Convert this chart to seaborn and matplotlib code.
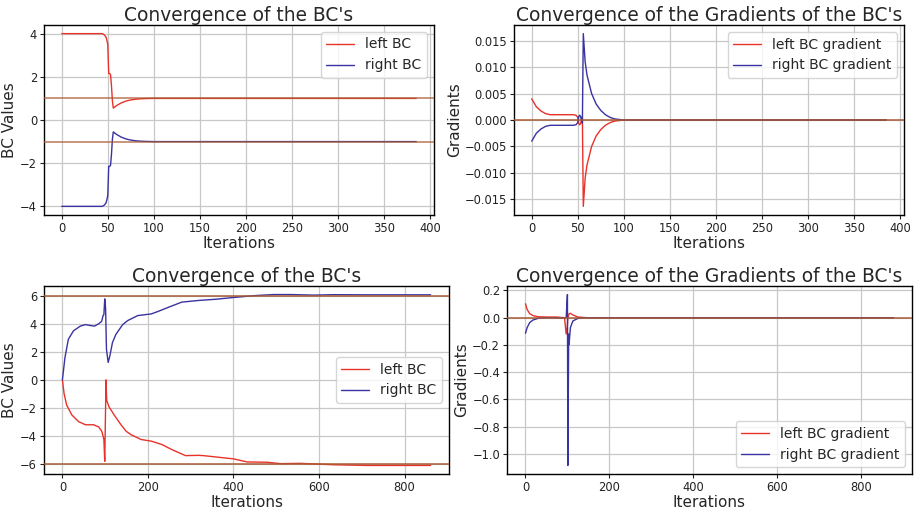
import matplotlib
matplotlib.use("Agg")
import matplotlib.pyplot as plt
import seaborn as sns
import numpy as np

# ---------------- data ----------------
# Top-left: BC values, run 1
it1_bc = [0, 44, 46, 48, 49, 50, 51, 52, 53, 54, 55, 56, 58, 60, 65, 70, 75, 80, 85, 90, 100, 385]
left_bc1 = [4.0, 4.0, 3.95, 3.85, 3.7, 3.5, 2.15, 2.15, 2.1, 1.6, 0.9, 0.55, 0.62, 0.68, 0.8, 0.88, 0.93, 0.96, 0.98, 0.99, 1.0, 1.0]
right_bc1 = [-4.0, -4.0, -3.95, -3.85, -3.7, -3.5, -2.15, -2.15, -2.1, -1.6, -0.9, -0.55, -0.62, -0.68, -0.8, -0.88, -0.93, -0.96, -0.98, -0.99, -1.0, -1.0]
targets1 = [1.0, -1.0]

# Top-right: gradients, run 1
it1_gr = [0, 5, 10, 15, 20, 30, 45, 48, 50, 51, 52, 53, 54, 55, 56, 58, 60, 65, 70, 75, 80, 85, 90, 100, 385]
left_gr1 = [0.004, 0.0025, 0.0017, 0.0012, 0.001, 0.001, 0.001, 0.0009, 0.0005, -0.0006, -0.0009, -0.0007, 0.0, 0.0006,
            -0.0163, -0.011, -0.0085, -0.005, -0.003, -0.0018, -0.001, -0.0005, -0.0002, 0.0, 0.0]
right_gr1 = [-0.004, -0.0025, -0.0017, -0.0012, -0.001, -0.001, -0.001, -0.0009, -0.0005, 0.0006, 0.0009, 0.0007, 0.0, -0.0006,
             0.0163, 0.011, 0.0085, 0.005, 0.003, 0.0018, 0.001, 0.0005, 0.0002, 0.0, 0.0]

# Bottom-left: BC values, run 2
it2_r = [0, 6, 14, 26, 42, 54, 66, 75, 85, 92, 95, 97, 99, 101, 103, 107, 111, 117, 125, 141, 153, 176, 208, 224,
         247, 279, 319, 361, 400, 447, 494, 533, 588, 635, 713, 861]
right_bc2 = [0.0, 1.6, 2.9, 3.5, 3.83, 3.94, 3.87, 3.83, 4.0, 4.18, 4.58, 4.65, 5.77, 5.1, 2.18, 1.24, 1.71, 2.65, 3.24,
             3.94, 4.23, 4.58, 4.7, 4.88, 5.16, 5.54, 5.66, 5.75, 5.87, 6.0, 6.08, 6.08, 6.04, 6.07, 6.06, 6.06]
it2_l = [0, 4, 10, 22, 38, 54, 73, 85, 92, 95, 97, 99, 100, 102, 103.5, 109, 121, 137, 149, 160, 184, 208, 232, 256,
         288, 319, 330, 400, 432, 478, 510, 556, 635, 713, 861]
left_bc2 = [0.0, -1.0, -1.8, -2.5, -2.98, -3.2, -3.2, -3.36, -3.66, -4.0, -4.25, -5.8, -3.8, 0.0, -1.46, -1.92, -2.5,
            -3.2, -3.66, -3.9, -4.25, -4.37, -4.6, -4.97, -5.4, -5.38, -5.4, -5.63, -5.85, -5.87, -5.97, -5.95, -6.05,
            -6.1, -6.1]
targets2 = [6.0, -6.0]

# Bottom-right: gradients, run 2
it2_gl = [0, 4, 10, 18, 30, 50, 73, 93, 97, 99.6, 101, 104, 107, 113, 125, 145, 877]
left_gr2 = [0.102, 0.06, 0.03, 0.015, 0.007, 0.005, 0.005, 0.0, -0.12, -0.07, 0.0, 0.03, 0.032, 0.02, 0.005, 0.0, 0.0]
it2_gr = [0, 4, 10, 18, 30, 50, 93, 97, 100, 101, 103, 104, 107, 113, 125, 137, 877]
right_gr2 = [-0.114, -0.073, -0.036, -0.017, -0.005, 0.0, -0.002, 0.0, 0.17, -1.085, -0.12, -0.195, -0.073, -0.024,
             -0.005, 0.0, 0.0]

# ---------------- style ----------------
sns.set_style("ticks", {"axes.grid": True})
plt.rcParams['font.family'] = ['DejaVu Sans']
plt.rcParams.update({
    "grid.color": "#c8c8c8",
    "grid.linewidth": 0.9,
    "axes.edgecolor": "black",
    "axes.linewidth": 1.0,
    "xtick.labelsize": 8.3,
    "ytick.labelsize": 8.3,
    "xtick.color": "#222222",
    "ytick.color": "#222222",
})

RED = "#e8322a"
BLUE = "#3a32a0"
BROWN = "#a85a32"

fig = plt.figure(figsize=(9.14, 5.12), dpi=100)
ax_tl = fig.add_axes([44 / 914, 1 - 215 / 512, 390 / 914, 190 / 512])
ax_tr = fig.add_axes([514 / 914, 1 - 215 / 512, 390 / 914, 190 / 512])
ax_bl = fig.add_axes([44 / 914, 1 - 474 / 512, 405 / 914, 188 / 512])
ax_br = fig.add_axes([507 / 914, 1 - 474 / 512, 405 / 914, 188 / 512])

TITLE_FS = 13.4
LABEL_FS = 11
LEG_FS = 10


def style(ax, title, ylabel):
    ax.set_title(title, fontsize=TITLE_FS, pad=3)
    ax.set_xlabel("Iterations", fontsize=LABEL_FS, labelpad=1)
    ax.set_ylabel(ylabel, fontsize=LABEL_FS, labelpad=2)
    ax.tick_params(length=3, pad=2)
    for s in ax.spines.values():
        s.set_visible(True)
        s.set_color("black")


# Top-left
sns.lineplot(x=it1_bc, y=left_bc1, ax=ax_tl, color=RED, linewidth=1, label="left BC")
sns.lineplot(x=it1_bc, y=right_bc1, ax=ax_tl, color=BLUE, linewidth=1, label="right BC")
for t in targets1:
    ax_tl.axhline(t, color=BROWN, linewidth=1.2, alpha=0.75, zorder=3)
ax_tl.set_yticks([-4, -2, 0, 2, 4])
ax_tl.set_xticks(range(0, 401, 50))
style(ax_tl, "Convergence of the BC's", "BC Values")
ax_tl.legend(loc="upper right", fontsize=LEG_FS)

# Top-right
sns.lineplot(x=it1_gr, y=left_gr1, ax=ax_tr, color=RED, linewidth=1, label="left BC gradient")
sns.lineplot(x=it1_gr, y=right_gr1, ax=ax_tr, color=BLUE, linewidth=1, label="right BC gradient")
ax_tr.axhline(0, color=BROWN, linewidth=1.2, alpha=0.9, zorder=3)
ax_tr.set_yticks([-0.015, -0.010, -0.005, 0.0, 0.005, 0.010, 0.015])
ax_tr.set_yticklabels([f"{v:.3f}".replace("-", "\u2212") for v in [-0.015, -0.010, -0.005, 0.0, 0.005, 0.010, 0.015]])
ax_tr.set_xticks(range(0, 401, 50))
style(ax_tr, "Convergence of the Gradients of the BC's", "Gradients")
ax_tr.legend(loc="upper right", fontsize=LEG_FS)

# Bottom-left
sns.lineplot(x=it2_l, y=left_bc2, ax=ax_bl, color=RED, linewidth=1, label="left BC")
sns.lineplot(x=it2_r, y=right_bc2, ax=ax_bl, color=BLUE, linewidth=1, label="right BC")
for t in targets2:
    ax_bl.axhline(t, color=BROWN, linewidth=1.2, alpha=0.9, zorder=3)
ax_bl.set_yticks([-6, -4, -2, 0, 2, 4, 6])
ax_bl.set_xticks(range(0, 801, 200))
style(ax_bl, "Convergence of the BC's", "BC Values")
ax_bl.legend(loc="center right", fontsize=LEG_FS)

# Bottom-right
sns.lineplot(x=it2_gl, y=left_gr2, ax=ax_br, color=RED, linewidth=1, label="left BC gradient")
sns.lineplot(x=it2_gr, y=right_gr2, ax=ax_br, color=BLUE, linewidth=1, label="right BC gradient")
ax_br.axhline(0, color=BROWN, linewidth=1.2, alpha=0.9, zorder=3)
ax_br.set_xlim(-44, 921)
ax_br.set_yticks([-1.0, -0.8, -0.6, -0.4, -0.2, 0.0, 0.2])
ax_br.set_xticks(range(0, 801, 200))
style(ax_br, "Convergence of the Gradients of the BC's", "Gradients")
ax_br.legend(loc="lower right", fontsize=LEG_FS)

fig.savefig("out.png", dpi=100)
